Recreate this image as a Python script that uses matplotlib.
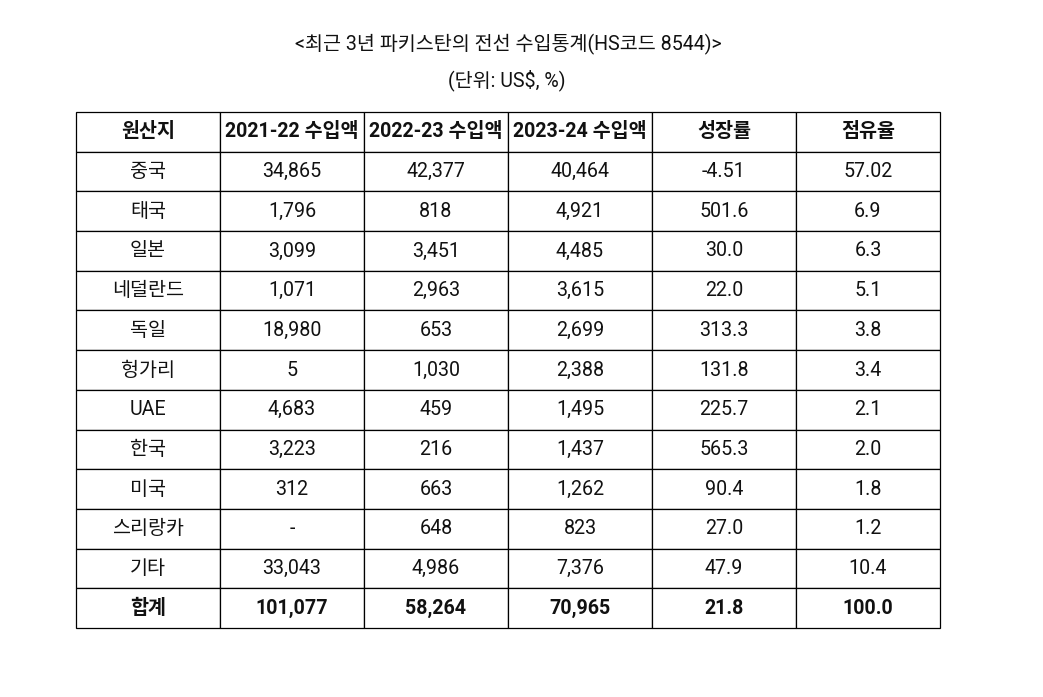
import matplotlib
matplotlib.use("Agg")
import matplotlib.pyplot as plt

plt.rcParams['font.family'] = ['Roboto', 'Noto Sans CJK KR', 'DejaVu Sans']

title = "<최근 3년 파키스탄의 전선 수입통계(HS코드 8544)>"
subtitle = "(단위: US$, %)"
columns = ["원산지", "2021-22 수입액", "2022-23 수입액", "2023-24 수입액", "성장률", "점유율"]
countries = ["중국", "태국", "일본", "네덜란드", "독일", "헝가리", "UAE", "한국", "미국", "스리랑카", "기타", "합계"]
imp_2122 = ["34,865", "1,796", "3,099", "1,071", "18,980", "5", "4,683", "3,223", "312", "-", "33,043", "101,077"]
imp_2223 = ["42,377", "818", "3,451", "2,963", "653", "1,030", "459", "216", "663", "648", "4,986", "58,264"]
imp_2324 = ["40,464", "4,921", "4,485", "3,615", "2,699", "2,388", "1,495", "1,437", "1,262", "823", "7,376", "70,965"]
growth = ["-4.51", "501.6", "30.0", "22.0", "313.3", "131.8", "225.7", "565.3", "90.4", "27.0", "47.9", "21.8"]
share = ["57.02", "6.9", "6.3", "5.1", "3.8", "3.4", "2.1", "2.0", "1.8", "1.2", "10.4", "100.0"]

W, H = 1043, 697
fig = plt.figure(figsize=(W / 100, H / 100), dpi=100)
ax = fig.add_axes([0, 0, 1, 1])
ax.axis("off")

FS = 14.1
fig.text(508 / W, 1 - 44 / H, title, ha="center", va="center", fontsize=FS, color="#111111")
fig.text(507 / W, 1 - 80 / H, subtitle, ha="center", va="center", fontsize=FS, color="#111111")

rows = [list(r) for r in zip(countries, imp_2122, imp_2223, imp_2324, growth, share)]
left, right, top, bottom = 76, 940, 112, 628
tbl = ax.table(cellText=rows, colLabels=columns, cellLoc="center",
               bbox=[left / W, 1 - bottom / H, (right - left) / W, (bottom - top) / H])
tbl.auto_set_font_size(False)
tbl.set_fontsize(FS)
nrows = len(rows)
for (r, c), cell in tbl.get_celld().items():
    cell.set_edgecolor("#000000")
    cell.set_linewidth(0.9)
    cell.set_facecolor("white")
    txt = cell.get_text()
    txt.set_color("#111111")
    if r == 0 or r == nrows:
        txt.set_fontweight("bold")

fig.savefig("out.png", dpi=100, facecolor="white")
